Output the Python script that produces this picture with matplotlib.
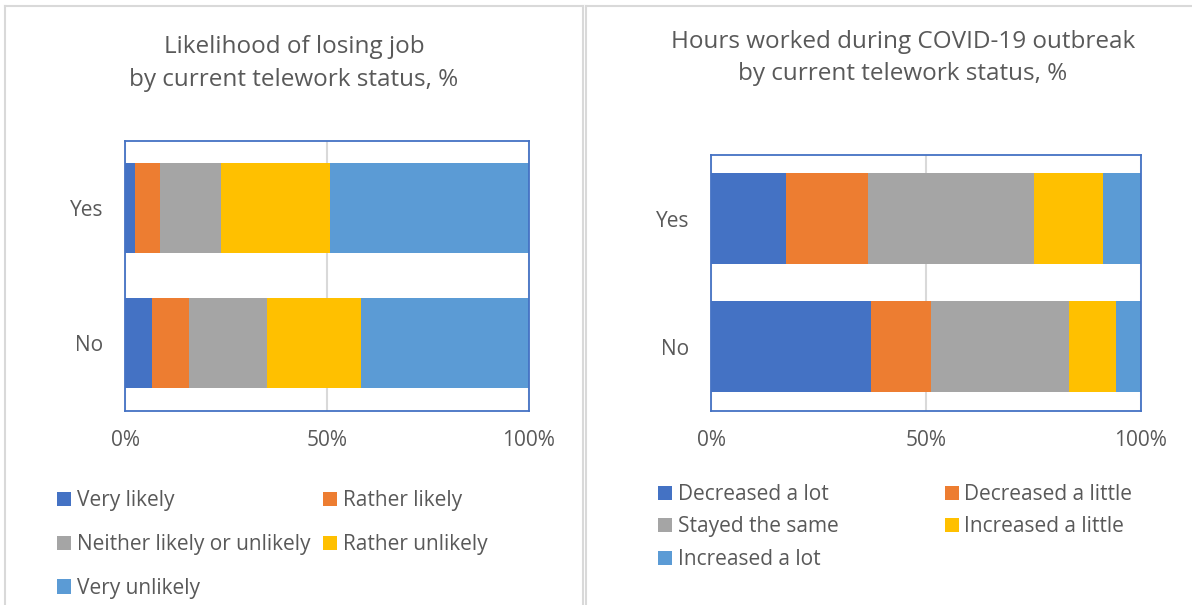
import matplotlib
matplotlib.use('Agg')
import matplotlib.pyplot as plt
import numpy as np
from matplotlib.lines import Line2D

plt.rcParams['font.family'] = ['Open Sans', 'DejaVu Sans']

W, H = 1192, 605
TXT = '#595959'

groups = ['No', 'Yes']
colors = ['#4472C4', '#ED7D31', '#A5A5A5', '#FFC000', '#5B9BD5']

# left chart: likelihood of losing job (%)
job_labels = ['Very likely', 'Rather likely', 'Neither likely or unlikely',
              'Rather unlikely', 'Very unlikely']
job_no = [6.6, 9.2, 19.3, 23.3, 41.6]
job_yes = [2.5, 6.1, 15.1, 27.1, 49.2]

# right chart: hours worked during outbreak (%)
hours_labels = ['Decreased a lot', 'Decreased a little', 'Stayed the same',
                'Increased a little', 'Increased a lot']
hours_no = [37.2, 13.9, 32.1, 10.9, 5.9]
hours_yes = [17.4, 19.1, 38.7, 15.9, 8.9]


def px(x0, y0, w, h):
    # pixel box (top-left origin) -> figure fraction
    return [x0 / W, 1 - (y0 + h) / H, w / W, h / H]


def draw(ax, no_vals, yes_vals, labels, bar_h):
    vals = np.array([no_vals, yes_vals]) / 100.0
    left = np.zeros(2)
    bars = []
    for i, lab in enumerate(labels):
        b = ax.barh([0, 1], vals[:, i], left=left, height=bar_h,
                    color=colors[i], label=lab, zorder=2)
        left += vals[:, i]
        bars.append(b)
    ax.set_xlim(0, 1)
    ax.set_ylim(-0.5, 1.5)
    ax.set_yticks([0, 1], groups)
    ax.set_xticks([0, 0.5, 1], ['0%', '50%', '100%'])
    ax.tick_params(axis='x', length=0, labelsize=15, labelcolor=TXT, pad=14)
    ax.tick_params(axis='y', length=0, labelsize=15, labelcolor=TXT, pad=16)
    ax.grid(axis='x', color='#D9D9D9', lw=1.5, zorder=0)
    ax.set_axisbelow(True)
    for s in ax.spines.values():
        s.set_color('#4472C4')
        s.set_linewidth(1.3)
    return bars


fig = plt.figure(figsize=(W / 100, H / 100), dpi=100)

ax1 = fig.add_axes(px(125.3, 140.5, 403.7, 270.5))
ax2 = fig.add_axes(px(711.3, 154.7, 429.7, 256.3))

b1 = draw(ax1, job_no, job_yes, job_labels, 0.667)
b2 = draw(ax2, hours_no, hours_yes, hours_labels, 0.71)

fig.text(294 / W, 1 - 63.5 / H,
         'Likelihood of losing job\nby current telework status, %',
         ha='center', va='center', fontsize=17.5, color=TXT, linespacing=1.45)
fig.text(903 / W, 1 - 58 / H,
         'Hours worked during COVID-19 outbreak\nby current telework status, %',
         ha='center', va='center', fontsize=17.5, color=TXT, linespacing=1.4)

order = [0, 2, 4, 1, 3]  # row-wise filling with 2 columns
fig.legend([b1[i] for i in order], [job_labels[i] for i in order],
           loc='upper left', bbox_to_anchor=(57 / W, 1 - 490 / H), ncol=2,
           frameon=False, fontsize=15, labelcolor=TXT, handlelength=0.67,
           handleheight=0.67, handletextpad=0.27, columnspacing=0.63,
           labelspacing=1.1, borderpad=0, borderaxespad=0)
fig.legend([b2[i] for i in order], [hours_labels[i] for i in order],
           loc='upper left', bbox_to_anchor=(658 / W, 1 - 484 / H), ncol=2,
           frameon=False, fontsize=15, labelcolor=TXT, handlelength=0.67,
           handleheight=0.67, handletextpad=0.27, columnspacing=5.1,
           labelspacing=0.55, borderpad=0, borderaxespad=0)

# chart area borders
bc = '#D9D9D9'
for (x0, y0, x1, y1) in [(5, 5.5, 583, 5.5), (5, 5.5, 5, H), (583, 5.5, 583, H),
                         (586, 5.5, W, 5.5), (586, 5.5, 586, H)]:
    fig.add_artist(Line2D([x0 / W, x1 / W], [1 - y0 / H, 1 - y1 / H],
                          transform=fig.transFigure, color=bc, lw=1.5))

fig.savefig('out.png', dpi=100)
